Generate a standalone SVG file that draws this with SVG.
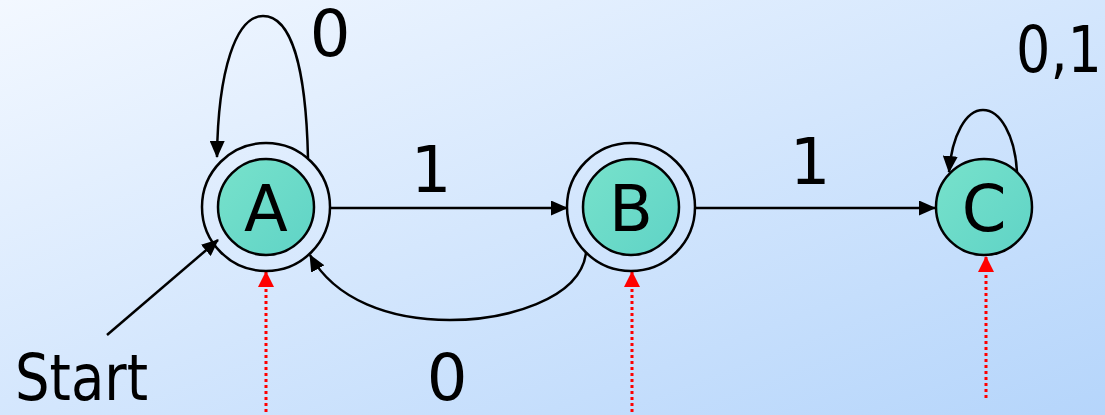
<svg xmlns="http://www.w3.org/2000/svg" width="1105" height="415" viewBox="0 0 1105 415">
<defs>
<linearGradient id="bg" x1="0" y1="0" x2="1" y2="1">
<stop offset="0" stop-color="#f3f8ff"/>
<stop offset="1" stop-color="#b5d5fb"/>
</linearGradient>
<linearGradient id="fillA" x1="0" y1="0" x2="1" y2="1">
<stop offset="0" stop-color="#78e2cb"/>
<stop offset="1" stop-color="#5fd3c6"/>
</linearGradient>
<marker id="arr" markerWidth="17" markerHeight="15" refX="16" refY="7.5" orient="auto" markerUnits="userSpaceOnUse">
<path d="M0,0 L17,7.5 L0,15 Z" fill="#000"/>
</marker>
<marker id="rarr" markerWidth="16" markerHeight="16" refX="15" refY="8" orient="auto" markerUnits="userSpaceOnUse">
<path d="M0,0 L16,8 L0,16 Z" fill="#ff0000"/>
</marker>
</defs>
<style>
.lbl{font-family:"DejaVu Sans",sans-serif;font-size:64px;fill:#000}
.st{fill:url(#fillA);stroke:#000;stroke-width:2.5}
.ring{fill:none;stroke:#000;stroke-width:2.5}
.edge{fill:none;stroke:#000;stroke-width:2.5;marker-end:url(#arr)}
.red{fill:none;stroke:#ff0000;stroke-width:3;stroke-dasharray:3 3;marker-end:url(#rarr)}
</style>
<rect width="1105" height="415" fill="url(#bg)"/>
<g id="connectors">
<path class="edge" d="M308,158 C306,70 292,16 263,16 C236,16 218,70 217,157"/>
<path class="edge" d="M329,208 L567,208"/>
<path class="edge" d="M696,208 L935,208"/>
<path class="edge" d="M586,253 C580,300 505,320 450,320 C390,320 335,300 310,255"/>
<path class="edge" d="M1017,172 C1015,135 1000,110 983,110 C966,110 952,135 949,172"/>
<path class="edge" d="M107,335 L218,240"/>
<path class="red" d="M266,412 L266,272"/>
<path class="red" d="M632,412 L632,272"/>
<path class="red" d="M986,398 L986,257"/>
</g>
<g id="node-A">
<circle class="ring" cx="266" cy="207" r="64"/>
<circle class="st" cx="266" cy="207" r="48"/>
<text class="lbl" x="266" y="231" text-anchor="middle">A</text>
</g>
<g id="node-B">
<circle class="ring" cx="631" cy="207" r="64"/>
<circle class="st" cx="631" cy="207" r="48"/>
<text class="lbl" x="631" y="231" text-anchor="middle">B</text>
</g>
<g id="node-C">
<circle class="st" cx="984" cy="207" r="48"/>
<text class="lbl" x="984" y="231" text-anchor="middle">C</text>
</g>
<g id="labels">
<text class="lbl" x="330" y="56" text-anchor="middle">0</text>
<text class="lbl" x="431" y="192" text-anchor="middle">1</text>
<text class="lbl" x="810" y="184" text-anchor="middle">1</text>
<text class="lbl" x="1016" y="72" textLength="86" lengthAdjust="spacingAndGlyphs">0,1</text>
<text class="lbl" x="447" y="400" text-anchor="middle">0</text>
<text class="lbl" x="15" y="400" textLength="133" lengthAdjust="spacingAndGlyphs">Start</text>
</g>
</svg>
